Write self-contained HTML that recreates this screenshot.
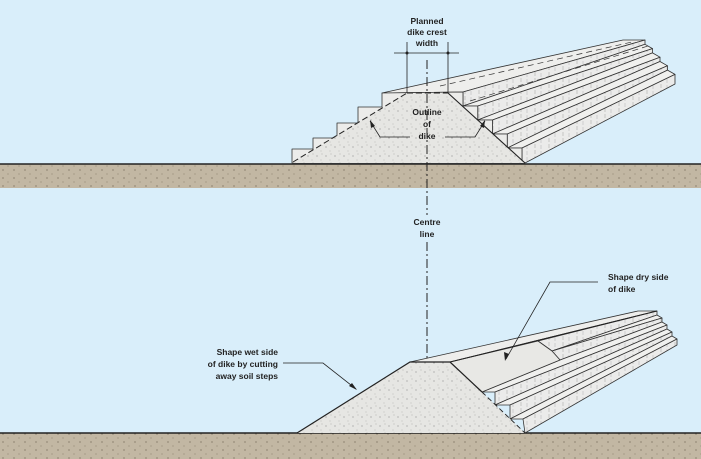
<!DOCTYPE html>
<html><head><meta charset="utf-8"><style>
html,body{margin:0;padding:0;background:#d9eefa;}
svg{display:block}
text{font-family:"Liberation Sans",sans-serif;font-weight:bold;font-size:8.5px;fill:#222}
</style></head><body>
<svg width="701" height="459" viewBox="0 0 701 459" xmlns="http://www.w3.org/2000/svg">
<defs>
<pattern id="sp" width="9" height="9" patternUnits="userSpaceOnUse">
<rect width="9" height="9" fill="#e6e6e3"/>
<circle cx="2" cy="3" r="0.5" fill="#666"/><circle cx="6" cy="7" r="0.4" fill="#888"/><circle cx="7" cy="1" r="0.4" fill="#777"/>
</pattern>
<pattern id="gr" width="11" height="8" patternUnits="userSpaceOnUse">
<rect width="11" height="8" fill="#c2b7a3"/>
<circle cx="3" cy="2" r="0.6" fill="#6b604f"/><circle cx="8" cy="6" r="0.5" fill="#7d705c"/>
</pattern>
<pattern id="hz" width="14" height="6" patternUnits="userSpaceOnUse">
<rect width="14" height="6" fill="#ebebea"/>
<line x1="3" y1="0" x2="3" y2="4" stroke="#aaa" stroke-width="0.6"/><line x1="9" y1="1" x2="9" y2="5" stroke="#bbb" stroke-width="0.6"/>
</pattern>
</defs>
<rect width="701" height="459" fill="#d9eefa"/>

<!-- TOP -->
<rect x="0" y="164" width="701" height="24" fill="url(#gr)"/>
<line x1="0" y1="164" x2="701" y2="164" stroke="#222" stroke-width="1.5"/>
<g stroke="#333" stroke-width="0.8" stroke-linejoin="round">
<polygon points="382,93 463,92 645,40 623,40" fill="#eeeeec"/>
<polygon points="463,92 463,106 645,44.3 645,40" fill="url(#hz)"/>
<polygon points="463,106 477.75,106 652.5,48.6 645,44.3" fill="#f0f0ee"/>
<polygon points="477.75,106 477.75,120 652.5,52.9 652.5,48.6" fill="url(#hz)"/>
<polygon points="477.75,120 492.5,120 660,57.2 652.5,52.9" fill="#f0f0ee"/>
<polygon points="492.5,120 492.5,134 660,61.5 660,57.2" fill="url(#hz)"/>
<polygon points="492.5,134 507.25,134 667.5,65.8 660,61.5" fill="#f0f0ee"/>
<polygon points="507.25,134 507.25,148 667.5,70.1 667.5,65.8" fill="url(#hz)"/>
<polygon points="507.25,148 522,148 675,74.4 667.5,70.1" fill="#f0f0ee"/>
<polygon points="522,148 522,163 525,163 675,84 675,74.4" fill="url(#hz)"/>
<polygon points="292,163 292,149 313,149 313,138 337,138 337,123 358,123 358,107 382,107 382,93 463,92 463,106 477.75,106 477.75,120 492.5,120 492.5,134 507.25,134 507.25,148 522,148 522,163" fill="#ececea"/>
</g>
<polygon points="293,163 407,93 448,93 525,163" fill="url(#sp)"/>
<line x1="293" y1="162" x2="407" y2="93" stroke="#222" stroke-width="1" stroke-dasharray="6,3"/>
<line x1="407" y1="93" x2="448" y2="93" stroke="#222" stroke-width="1" stroke-dasharray="6,3"/>
<line x1="448" y1="93" x2="525" y2="163" stroke="#222" stroke-width="1.1"/>
<g stroke="#333" stroke-width="0.7" stroke-dasharray="6,4" fill="none">
<line x1="440" y1="86" x2="632" y2="42"/><line x1="470" y1="101" x2="648" y2="46"/>
</g>
<g stroke="#222" stroke-width="0.8">
<line x1="407" y1="42" x2="407" y2="93"/><line x1="448" y1="42" x2="448" y2="93"/>
<line x1="394" y1="53" x2="459" y2="53"/>
</g>
<circle cx="407" cy="53" r="1.5" fill="#222"/><circle cx="448" cy="53" r="1.5" fill="#222"/>
<text x="427" y="24" text-anchor="middle">Planned</text>
<text x="427" y="35" text-anchor="middle">dike crest</text>
<text x="427" y="46" text-anchor="middle">width</text>
<text x="427" y="115" text-anchor="middle">Outline</text>
<text x="427" y="127" text-anchor="middle">of</text>
<text x="427" y="139" text-anchor="middle">dike</text>
<g stroke="#222" stroke-width="0.8" fill="none">
<polyline points="410,137 380,137 370,121"/><polyline points="445,137 475,137 485,121"/>
</g>
<polygon points="370,120 371,128 375,126" fill="#222"/><polygon points="485,120 484,128 480,126" fill="#222"/>

<line x1="427" y1="60" x2="427" y2="215" stroke="#222" stroke-width="1" stroke-dasharray="9,3,2,3"/>
<line x1="427" y1="242" x2="427" y2="445" stroke="#222" stroke-width="1" stroke-dasharray="9,3,2,3"/>
<text x="427" y="225" text-anchor="middle">Centre</text>
<text x="427" y="237" text-anchor="middle">line</text>

<!-- BOTTOM -->
<rect x="0" y="433" width="701" height="26" fill="url(#gr)"/>
<line x1="0" y1="433" x2="701" y2="433" stroke="#222" stroke-width="1.5"/>
<g stroke="#333" stroke-width="0.8" stroke-linejoin="round">
<polygon points="410,362 450,362 657,311 638,311" fill="#eeeeec"/>
<polygon points="538,341 552,351 657,315 657,311" fill="url(#hz)"/>
<polygon points="552,351 662,318 657,315" fill="#f0f0ee"/>
<polygon points="552,351 560,360 662,322 662,318" fill="url(#hz)"/>
<polygon points="560,360 482,392 495,392 667,325 662,322" fill="#f0f0ee"/>
<polygon points="495,392 495,405 667,329 667,325" fill="url(#hz)"/>
<polygon points="495,405 510,405 672,332 667,329" fill="#f0f0ee"/>
<polygon points="510,405 510,419 672,336 672,332" fill="url(#hz)"/>
<polygon points="510,419 523,419 677,339 672,336" fill="#f0f0ee"/>
<polygon points="523,419 525,433 677,345 677,339" fill="url(#hz)"/>
<polygon points="450,362 538,341 552,351 560,360 482,392" fill="#e8e8e5"/>
</g>
<line x1="450" y1="362" x2="657" y2="311" stroke="#222" stroke-width="1"/>
<polygon points="297,433 410,362 450,362 525,433" fill="url(#sp)"/>
<polyline points="297,433 410,362 450,362 482,392" fill="none" stroke="#222" stroke-width="1.2"/>
<line x1="482" y1="392" x2="525" y2="433" stroke="#222" stroke-width="0.9" stroke-dasharray="5,3"/>
<text x="608" y="280">Shape dry side</text>
<text x="608" y="292">of dike</text>
<polyline points="598,282 550,282 506,359" fill="none" stroke="#222" stroke-width="0.8"/>
<polygon points="505,361 504,352 509,354" fill="#222"/>
<text x="278" y="355" text-anchor="end">Shape wet side</text>
<text x="278" y="367" text-anchor="end">of dike by cutting</text>
<text x="278" y="379" text-anchor="end">away soil steps</text>
<polyline points="283,363 323,363 356,389" fill="none" stroke="#222" stroke-width="0.8"/>
<polygon points="357,390 349,386 352,383" fill="#222"/>
</svg>
</body></html>
